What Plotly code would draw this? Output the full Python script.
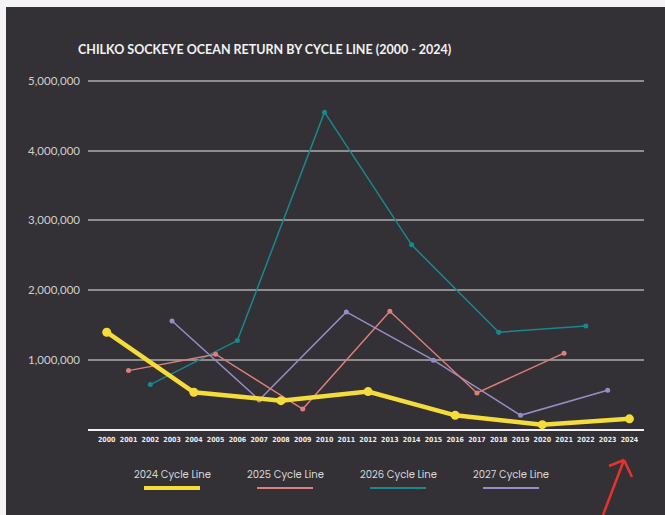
import plotly.graph_objects as go

W, H = 665, 515
L, R, T, B = 88, 21, 76, 85  # plot area: x 88..644, y 76..430

years = list(range(2000, 2025))
tick_labels = [str(y) for y in years]

yrs_2024 = [2000, 2004, 2008, 2012, 2016, 2020, 2024]
val_2024 = [1400000, 540000, 420000, 550000, 210000, 76000, 160000]

yrs_2025 = [2001, 2005, 2009, 2013, 2017, 2021]
val_2025 = [850000, 1085000, 300000, 1700000, 530000, 1100000]

yrs_2026 = [2002, 2006, 2010, 2014, 2018, 2022]
val_2026 = [650000, 1280000, 4550000, 2650000, 1400000, 1490000]

yrs_2027 = [2003, 2007, 2011, 2015, 2019, 2023]
val_2027 = [1560000, 430000, 1690000, 1000000, 210000, 570000]

y_ticks = [1000000, 2000000, 3000000, 4000000, 5000000]

series = [
    ("2024 Cycle Line", yrs_2024, val_2024, "#f4dc3a", 4.5, 9),
    ("2025 Cycle Line", yrs_2025, val_2025, "#dd7f7c", 1.5, 5),
    ("2026 Cycle Line", yrs_2026, val_2026, "#17898e", 1.5, 5),
    ("2027 Cycle Line", yrs_2027, val_2027, "#978dc6", 1.5, 5),
]

BG = "#333136"
PW = W - L - R
PH = H - T - B
YMAX = 5000000 * PH / 349.3


def px(x):
    return (x - L) / PW


def py(y):
    return (H - B - y) / PH


fig = go.Figure()
for name, xs, ys, col, lw, ms in series[::-1]:
    fig.add_trace(go.Scatter(
        x=xs, y=ys, mode="lines+markers", name=name,
        line=dict(color=col, width=lw),
        marker=dict(color=col, size=ms),
        showlegend=False,
    ))

shapes = []
annotations = []

# white page border strips (top/left)
shapes.append(dict(type="rect", xref="paper", yref="paper", x0=px(0), x1=px(W), y0=py(7), y1=py(0),
                   fillcolor="#f4f4f4", line=dict(width=0), layer="below"))
shapes.append(dict(type="rect", xref="paper", yref="paper", x0=px(0), x1=px(6), y0=py(H), y1=py(0),
                   fillcolor="#f4f4f4", line=dict(width=0), layer="below"))

# custom legend: text above a line sample
legend_centers = [172, 285, 398, 511]
for (name, xs, ys, col, lw, ms), cx in zip(series, legend_centers):
    annotations.append(dict(xref="paper", yref="paper", x=px(cx), y=py(474), text=name,
                            showarrow=False, xanchor="center", yanchor="middle",
                            font=dict(family="Poppins, Lato, sans-serif", size=10, color="#d8d8d8")))
    shapes.append(dict(type="line", xref="paper", yref="paper", x0=px(cx - 28), x1=px(cx + 28),
                       y0=py(488), y1=py(488), line=dict(color=col, width=4 if lw > 3 else 2)))

# title
annotations.append(dict(xref="paper", yref="paper", x=px(264), y=py(50),
                        text="<b>CHILKO SOCKEYE OCEAN RETURN BY CYCLE LINE (2000 - 2024)</b>",
                        showarrow=False, xanchor="center", yanchor="middle",
                        font=dict(family="Lato, sans-serif", size=12.5, color="#f2f2f2")))

# red hand-drawn style arrow
red = "#e8332a"
for (x0, y0, x1, y1) in [(603, 515, 624, 460), (624, 460, 609, 466), (624, 460, 632, 477)]:
    shapes.append(dict(type="line", xref="paper", yref="paper", x0=px(x0), y0=py(y0), x1=px(x1), y1=py(y1),
                       line=dict(color=red, width=2.5)))

fig.update_layout(
    width=W, height=H,
    margin=dict(l=L, r=R, t=T, b=B, autoexpand=False),
    paper_bgcolor=BG, plot_bgcolor=BG,
    shapes=shapes, annotations=annotations,
    showlegend=False,
    xaxis=dict(range=[1999.14, 2024.67], tickmode="array", tickvals=years, ticktext=tick_labels,
               showgrid=False, zeroline=False, showline=False, ticks="", automargin=False,
               tickangle=0, ticklabelstandoff=4,
               tickfont=dict(family="DejaVu Sans Condensed, sans-serif", size=7, color="#ececec", weight="bold"),
               fixedrange=True),
    yaxis=dict(range=[0, YMAX], tickmode="array", tickvals=y_ticks,
               ticktext=[f"{v:,}" for v in y_ticks],
               showgrid=True, gridcolor="#8d8d8f", gridwidth=2,
               zeroline=True, zerolinecolor="#f0f0f0", zerolinewidth=2,
               showline=False, ticks="", ticklabelstandoff=7, automargin=False,
               tickfont=dict(family="Lato, sans-serif", size=11.5, color="#cfcfcf"),
               fixedrange=True),
)

fig.write_html("out.html", config={"displayModeBar": False},
               post_script="document.body.style.margin='0px';document.body.style.overflow='hidden';")
